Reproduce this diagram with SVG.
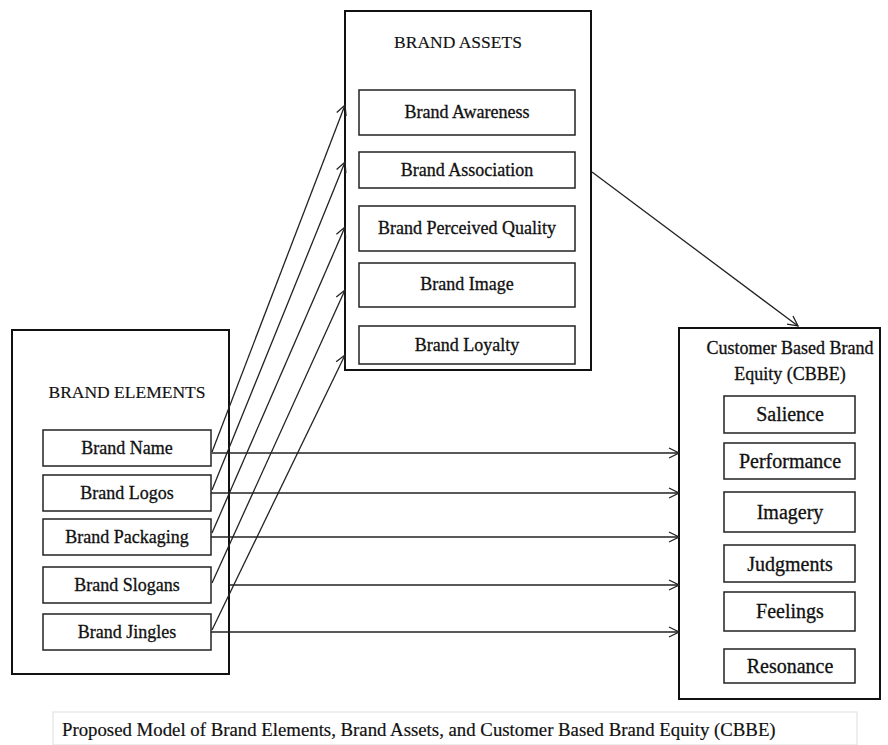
<svg xmlns="http://www.w3.org/2000/svg" width="888" height="745" viewBox="0 0 888 745">
<defs>
<style>
text{font-family:"Liberation Serif","Times New Roman",serif;fill:#111;stroke:#111;stroke-width:0.3;font-size:18px;text-anchor:middle}
.head{font-size:17.5px;stroke-width:0.15}
.sm{font-size:20px}
.outer{fill:#fff;stroke:#111;stroke-width:2}
.inner{fill:#fff;stroke:#222;stroke-width:1.5}
.con{stroke:#222;stroke-width:1.3;fill:none;marker-end:url(#arr)}
.cap{font-size:18.8px;text-anchor:start;stroke-width:0.2}
</style>
<marker id="arr" viewBox="0 0 12 12" refX="11" refY="6" markerWidth="12" markerHeight="12" markerUnits="userSpaceOnUse" orient="auto">
<path d="M1,1 L11,6 L1,11" fill="none" stroke="#222" stroke-width="1.3"/>
</marker>
</defs>
<rect width="888" height="745" fill="#fff"/>

<g id="brand-elements">
<rect class="outer" x="12" y="330" width="217" height="344"/>
<text class="head" x="127" y="398">BRAND ELEMENTS</text>
<g id="brand-name"><rect class="inner" x="43" y="430" width="168" height="36"/><text x="127" y="454">Brand Name</text></g>
<g id="brand-logos"><rect class="inner" x="43" y="475" width="168" height="36"/><text x="127" y="499">Brand Logos</text></g>
<g id="brand-packaging"><rect class="inner" x="43" y="519" width="168" height="36"/><text x="127" y="543">Brand Packaging</text></g>
<g id="brand-slogans"><rect class="inner" x="43" y="567" width="168" height="36"/><text x="127" y="591">Brand Slogans</text></g>
<g id="brand-jingles"><rect class="inner" x="43" y="614" width="168" height="36"/><text x="127" y="638">Brand Jingles</text></g>
</g>

<g id="brand-assets">
<rect class="outer" x="345" y="11" width="246" height="359"/>
<text class="head" x="458" y="48">BRAND ASSETS</text>
<g id="brand-awareness"><rect class="inner" x="359" y="90" width="216" height="45"/><text x="467" y="118">Brand Awareness</text></g>
<g id="brand-association"><rect class="inner" x="359" y="152" width="216" height="36"/><text x="467" y="176">Brand Association</text></g>
<g id="brand-perceived-quality"><rect class="inner" x="359" y="206" width="216" height="45"/><text x="467" y="234">Brand Perceived Quality</text></g>
<g id="brand-image"><rect class="inner" x="359" y="263" width="216" height="44"/><text x="467" y="290">Brand Image</text></g>
<g id="brand-loyalty"><rect class="inner" x="359" y="326" width="216" height="38"/><text x="467" y="351">Brand Loyalty</text></g>
</g>

<g id="cbbe">
<rect class="outer" x="679" y="328" width="201" height="371"/>
<text x="790" y="354">Customer Based Brand</text>
<text x="790" y="380">Equity (CBBE)</text>
<g id="salience"><rect class="inner" x="724" y="396" width="131" height="37"/><text class="sm" x="790" y="421">Salience</text></g>
<g id="performance"><rect class="inner" x="724" y="443" width="131" height="36"/><text class="sm" x="790" y="468">Performance</text></g>
<g id="imagery"><rect class="inner" x="724" y="492" width="131" height="40"/><text class="sm" x="790" y="519">Imagery</text></g>
<g id="judgments"><rect class="inner" x="724" y="545" width="131" height="37"/><text class="sm" x="790" y="571">Judgments</text></g>
<g id="feelings"><rect class="inner" x="724" y="592" width="131" height="39"/><text class="sm" x="790" y="618">Feelings</text></g>
<g id="resonance"><rect class="inner" x="724" y="649" width="131" height="34"/><text class="sm" x="790" y="673">Resonance</text></g>
</g>

<g id="connectors">
<line class="con" x1="212" y1="452" x2="345" y2="105"/>
<line class="con" x1="212" y1="490" x2="345" y2="162"/>
<line class="con" x1="212" y1="533" x2="345" y2="227"/>
<line class="con" x1="212" y1="583" x2="345" y2="290"/>
<line class="con" x1="212" y1="630" x2="345" y2="355"/>
<line class="con" x1="592" y1="172" x2="798" y2="326"/>
<line class="con" x1="212" y1="453" x2="679" y2="453"/>
<line class="con" x1="211" y1="493" x2="679" y2="493"/>
<line class="con" x1="211" y1="537" x2="679" y2="537"/>
<line class="con" x1="230" y1="585" x2="679" y2="585"/>
<line class="con" x1="211" y1="632" x2="679" y2="632"/>
</g>

<g id="caption">
<rect x="53" y="712" width="804" height="33" fill="#fff" stroke="#ddd" stroke-width="1"/>
<text class="cap" x="62" y="736">Proposed Model of Brand Elements, Brand Assets, and Customer Based Brand Equity (CBBE)</text>
</g>
</svg>
